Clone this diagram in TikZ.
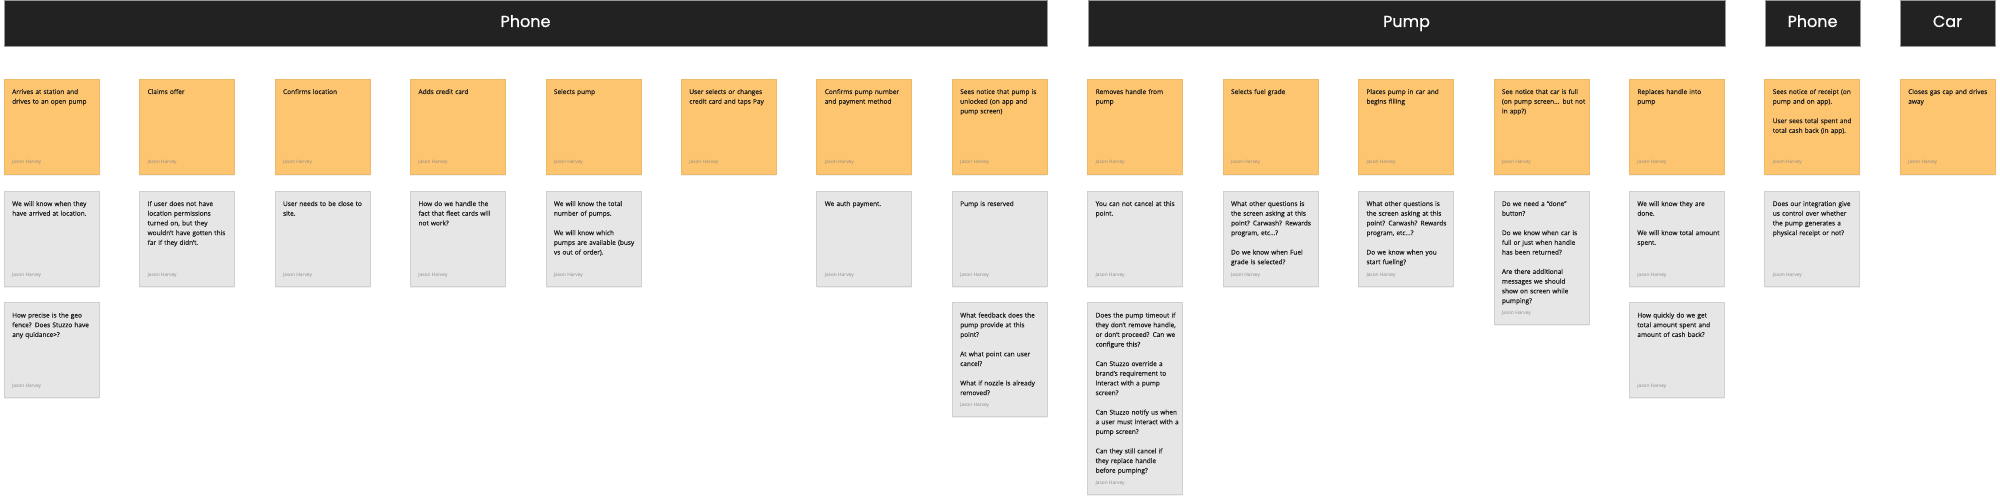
\documentclass[tikz,border=0pt]{standalone}
\usepackage{fontspec}
\setmainfont{Open Sans}[FakeBold=0.25]
\newfontfamily\headfont{Poppins}[FakeBold=0.6]
\newfontfamily\authorfont{Open Sans}
\usetikzlibrary{positioning,shadows}
\definecolor{barfill}{HTML}{222222}
\definecolor{stickyfill}{HTML}{FEC570}
\definecolor{stickyline}{HTML}{EBBA68}
\definecolor{remarkfill}{HTML}{E6E6E6}
\definecolor{remarkline}{HTML}{D0D0D0}
\definecolor{notetext}{HTML}{1E1E1E}
\definecolor{authortext}{HTML}{8A8A8A}
\tikzset{
  lane/.style     = {draw=black!40, line width=0.6pt, fill=barfill, anchor=north west,
                     minimum height=46pt, inner sep=0pt, outer sep=0pt, text=white,
                     text height=11.5pt, text depth=3.5pt,
                     font=\headfont\fontsize{16}{18}\selectfont},
  card/.style     = {draw, line width=0.4pt, minimum width=95pt, minimum height=95pt,
                     inner sep=0pt, outer sep=0pt,
                     drop shadow={shadow xshift=0pt, shadow yshift=-1.5pt, opacity=0.12}},
  sticky/.style   = {card, fill=stickyfill, draw=stickyline},
  remark/.style   = {card, fill=remarkfill, draw=remarkline},
  cardtext/.style = {anchor=base west, align=left, text width=88pt, inner sep=0pt,
                     text=notetext, font=\fontsize{6.5}{9.7}\selectfont},
  author/.style   = {anchor=base west, inner sep=0pt, text=authortext,
                     font=\authorfont\fontsize{4.8}{6}\selectfont}
}

\begin{document}
\begin{tikzpicture}[x=1pt, y=-1pt, node distance=17pt and 40.43pt]
  \useasboundingbox (0,0) rectangle (2000,500);

  % lanes
  \node[lane, minimum width=1043pt] (lane-phone) at (4,0) {Phone};
  \node[lane, minimum width=637pt] (lane-pump) at (1088,0) {Pump};
  \node[lane, minimum width=95pt] (lane-phone2) at (1765,0) {Phone};
  \node[lane, minimum width=95pt] (lane-car) at (1900,0) {Car};

  % steps (orange stickies)
  \node[sticky, anchor=north west] (o0) at (4,79) {};
  \node[sticky, right=of o0] (o1) {};
  \node[sticky, right=of o1] (o2) {};
  \node[sticky, right=of o2] (o3) {};
  \node[sticky, right=of o3] (o4) {};
  \node[sticky, right=of o4] (o5) {};
  \node[sticky, right=of o5] (o6) {};
  \node[sticky, right=of o6] (o7) {};
  \node[sticky, right=of o7] (o8) {};
  \node[sticky, right=of o8] (o9) {};
  \node[sticky, right=of o9] (o10) {};
  \node[sticky, right=of o10] (o11) {};
  \node[sticky, right=of o11] (o12) {};
  \node[sticky, right=of o12] (o13) {};
  \node[sticky, right=of o13] (o14) {};

  % notes (grey)
  \node[remark, below=of o0] (g0) {};
  \node[remark, below=of o1] (g1) {};
  \node[remark, below=of o2] (g2) {};
  \node[remark, below=of o3] (g3) {};
  \node[remark, below=of o4] (g4) {};
  \node[remark, below=of o6] (g6) {};
  \node[remark, below=of o7] (g7) {};
  \node[remark, below=of o8] (g8) {};
  \node[remark, below=of o9] (g9) {};
  \node[remark, below=of o10] (g10) {};
  \node[remark, below=of o11, minimum height=133.5pt] (g11) {};
  \node[remark, below=of o12] (g12) {};
  \node[remark, below=of o13] (g13) {};

  \node[remark, below=16.5pt of g0] (h0) {};
  \node[remark, below=16.5pt of g7, minimum height=114pt] (h7) {};
  \node[remark, below=16.5pt of g8, minimum height=191.5pt] (h8) {};
  \node[remark, below=16.5pt of g12] (h12) {};

  % texts
  \node[cardtext] (t-o0) at ([shift={(8pt,-15pt)}]o0.north west) {Arrives at station and\\ drives to an open pump};
  \node[cardtext] (t-o1) at ([shift={(8pt,-15pt)}]o1.north west) {Claims offer};
  \node[cardtext] (t-o2) at ([shift={(8pt,-15pt)}]o2.north west) {Confirms location};
  \node[cardtext] (t-o3) at ([shift={(8pt,-15pt)}]o3.north west) {Adds credit card};
  \node[cardtext] (t-o4) at ([shift={(8pt,-15pt)}]o4.north west) {Selects pump};
  \node[cardtext] (t-o5) at ([shift={(8pt,-15pt)}]o5.north west) {User selects or changes\\ credit card and taps Pay};
  \node[cardtext] (t-o6) at ([shift={(8pt,-15pt)}]o6.north west) {Confirms pump number\\ and payment method};
  \node[cardtext] (t-o7) at ([shift={(8pt,-15pt)}]o7.north west) {Sees notice that pump is\\ unlocked (on app and\\ pump screen)};
  \node[cardtext] (t-o8) at ([shift={(8pt,-15pt)}]o8.north west) {Removes handle from\\ pump};
  \node[cardtext] (t-o9) at ([shift={(8pt,-15pt)}]o9.north west) {Selects fuel grade};
  \node[cardtext] (t-o10) at ([shift={(8pt,-15pt)}]o10.north west) {Places pump in car and\\ begins filling};
  \node[cardtext] (t-o11) at ([shift={(8pt,-15pt)}]o11.north west) {See notice that car is full\\ (on pump screen... but not\\ in app?)};
  \node[cardtext] (t-o12) at ([shift={(8pt,-15pt)}]o12.north west) {Replaces handle into\\ pump};
  \node[cardtext] (t-o13) at ([shift={(8pt,-15pt)}]o13.north west) {Sees notice of receipt (on\\ pump and on app).\\[9.7pt] User sees total spent and\\ total cash back (in app).};
  \node[cardtext] (t-o14) at ([shift={(8pt,-15pt)}]o14.north west) {Closes gas cap and drives\\ away};

  \node[cardtext] (t-g0) at ([shift={(8pt,-15pt)}]g0.north west) {We will know when they\\ have arrived at location.};
  \node[cardtext] (t-g1) at ([shift={(8pt,-15pt)}]g1.north west) {If user does not have\\ location permissions\\ turned on, but they\\ wouldn't have gotten this\\ far if they didn't.};
  \node[cardtext] (t-g2) at ([shift={(8pt,-15pt)}]g2.north west) {User needs to be close to\\ site.};
  \node[cardtext] (t-g3) at ([shift={(8pt,-15pt)}]g3.north west) {How do we handle the\\ fact that fleet cards will\\ not work?};
  \node[cardtext] (t-g4) at ([shift={(8pt,-15pt)}]g4.north west) {We will know the total\\ number of pumps.\\[9.7pt] We will know which\\ pumps are available (busy\\ vs out of order).};
  \node[cardtext] (t-g6) at ([shift={(8pt,-15pt)}]g6.north west) {We auth payment.};
  \node[cardtext] (t-g7) at ([shift={(8pt,-15pt)}]g7.north west) {Pump is reserved};
  \node[cardtext] (t-g8) at ([shift={(8pt,-15pt)}]g8.north west) {You can not cancel at this\\ point.};
  \node[cardtext] (t-g9) at ([shift={(8pt,-15pt)}]g9.north west) {What other questions is\\ the screen asking at this\\ point? Carwash? Rewards\\ program, etc...?\\[9.7pt] Do we know when Fuel\\ grade is selected?};
  \node[cardtext] (t-g10) at ([shift={(8pt,-15pt)}]g10.north west) {What other questions is\\ the screen asking at this\\ point? Carwash? Rewards\\ program, etc...?\\[9.7pt] Do we know when you\\ start fueling?};
  \node[cardtext] (t-g11) at ([shift={(8pt,-15pt)}]g11.north west) {Do we need a “done”\\ button?\\[9.7pt] Do we know when car is\\ full or just when handle\\ has been returned?\\[9.7pt] Are there additional\\ messages we should\\ show on screen while\\ pumping?};
  \node[cardtext] (t-g12) at ([shift={(8pt,-15pt)}]g12.north west) {We will know they are\\ done.\\[9.7pt] We will know total amount\\ spent.};
  \node[cardtext] (t-g13) at ([shift={(8pt,-15pt)}]g13.north west) {Does our integration give\\ us control over whether\\ the pump generates a\\ physical receipt or not?};

  \node[cardtext] (t-h0) at ([shift={(8pt,-15pt)}]h0.north west) {How precise is the geo\\ fence? Does Stuzzo have\\ any quidance>?};
  \node[cardtext] (t-h7) at ([shift={(8pt,-15pt)}]h7.north west) {What feedback does the\\ pump provide at this\\ point?\\[9.7pt] At what point can user\\ cancel?\\[9.7pt] What if nozzle is already\\ removed?};
  \node[cardtext] (t-h8) at ([shift={(8pt,-15pt)}]h8.north west) {Does the pump timeout if\\ they don't remove handle,\\ or don't proceed? Can we\\ configure this?\\[9.7pt] Can Stuzzo override a\\ brand's requirement to\\ interact with a pump\\ screen?\\[9.7pt] Can Stuzzo notify us when\\ a user must interact with a\\ pump screen?\\[9.7pt] Can they still cancel if\\ they replace handle\\ before pumping?};
  \node[cardtext] (t-h12) at ([shift={(8pt,-15pt)}]h12.north west) {How quickly do we get\\ total amount spent and\\ amount of cash back?};

  % authors
  \foreach \c in {o0,o1,o2,o3,o4,o5,o6,o7,o8,o9,o10,o11,o12,o13,o14,
                  g0,g1,g2,g3,g4,g6,g7,g8,g9,g10,g11,g12,g13,h0,h7,h8,h12}
    \node[author] (a-\c) at ([shift={(8pt,10pt)}]\c.south west) {Jason Harvey};
\end{tikzpicture}
\end{document}
